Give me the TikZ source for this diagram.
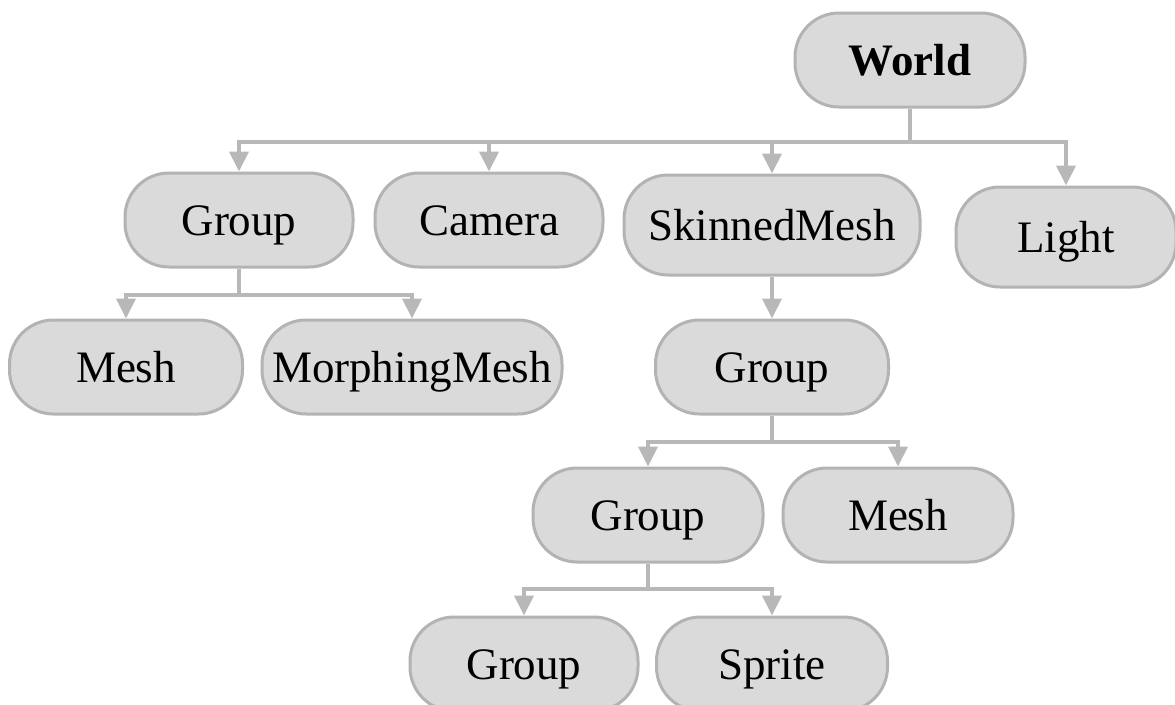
\documentclass[tikz,border=0pt]{standalone}
\usepackage{fontspec}
\setmainfont{Liberation Serif}
\usetikzlibrary{arrows.meta}
\definecolor{boxfill}{HTML}{DADADA}
\definecolor{boxline}{HTML}{B3B3B3}
\definecolor{linkgray}{HTML}{B8B8B8}
\tikzset{
  box/.style={draw=boxline, line width=3pt, fill=boxfill, rounded corners=44pt,
    inner sep=0pt, minimum width=230pt, minimum height=94pt,
    font=\fontsize{45}{50}\selectfont, text height=31pt, text depth=0pt},
  link/.style={draw=linkgray, line width=4pt,
    -{Triangle[width=19pt,length=20pt]}, color=linkgray},
}
\begin{document}
\begin{tikzpicture}[x=1pt,y=-1pt]
\useasboundingbox (0,0) rectangle (1175,704);

% scene graph nodes
\node[box] (world) at (910,60) {\textbf{World}};
\node[box, minimum width=228pt] (grpA) at (239,220) {Group};
\node[box, minimum width=228pt] (camera) at (489,220) {Camera};
\node[box, minimum width=296pt, minimum height=100pt] (skinned) at (772,225) {SkinnedMesh};
\node[box, minimum width=220pt, minimum height=100pt] (light) at (1066,237) {Light};
\node[box, minimum width=233pt] (meshA) at (126,367) {Mesh};
\node[box, minimum width=300pt] (morph) at (412,367) {MorphingMesh};
\node[box, minimum width=233pt] (grpB) at (772,367) {Group};
\node[box] (grpC) at (648,515) {Group};
\node[box] (meshB) at (898,515) {Mesh};
\node[box, minimum width=228pt] (grpD) at (524,664) {Group};
\node[box, minimum width=231pt] (sprite) at (772,664) {Sprite};

% parent to child links
\draw[link] (world.south) -- ++(0,33) -| (grpA.north);
\draw[link] (world.south) -- ++(0,33) -| (camera.north);
\draw[link] (world.south) -- ++(0,33) -| (skinned.north);
\draw[link] (world.south) -- ++(0,33) -| (light.north);

\draw[link] (grpA.south) -- ++(0,26) -| (meshA.north);
\draw[link] (grpA.south) -- ++(0,26) -| (morph.north);

\draw[link] (skinned.south) -- (grpB.north);

\draw[link] (grpB.south) -- ++(0,26) -| (grpC.north);
\draw[link] (grpB.south) -- ++(0,26) -| (meshB.north);

\draw[link] (grpC.south) -- ++(0,25) -| (grpD.north);
\draw[link] (grpC.south) -- ++(0,25) -| (sprite.north);
\end{tikzpicture}
\end{document}
